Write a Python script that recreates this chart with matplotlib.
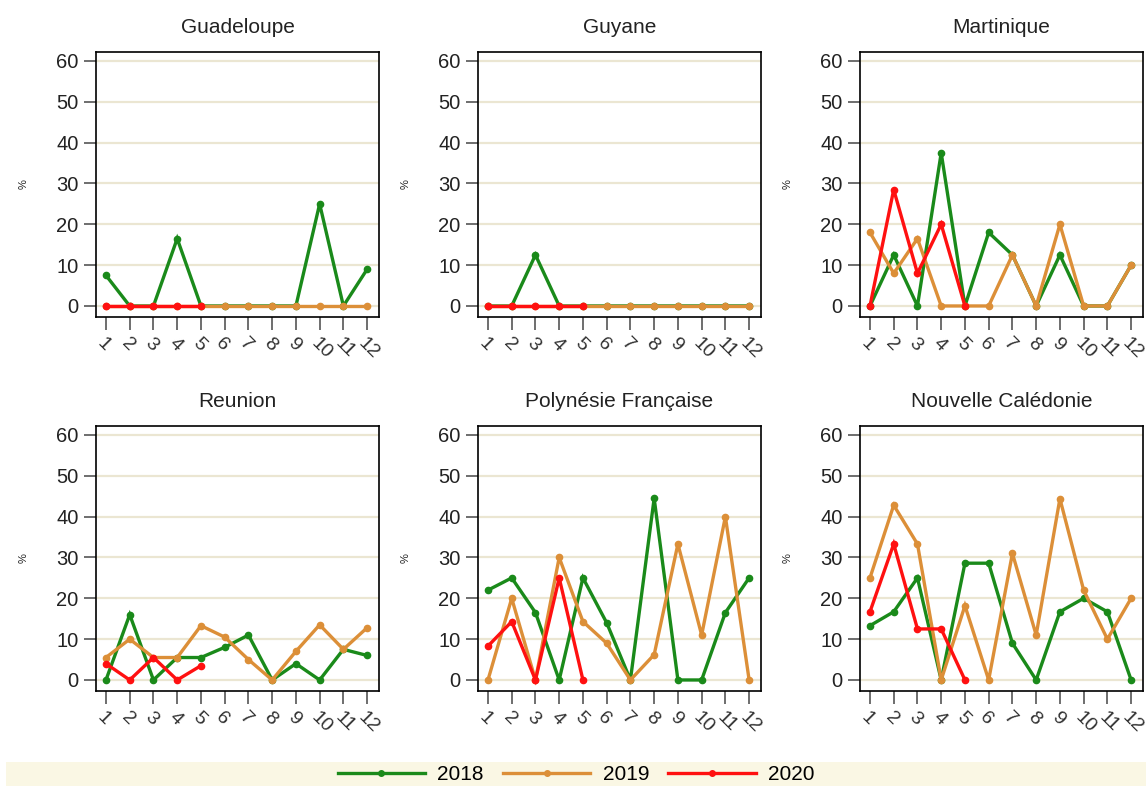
import matplotlib
matplotlib.use('Agg')
import matplotlib.pyplot as plt
from matplotlib.lines import Line2D
from matplotlib.patches import Rectangle
from matplotlib import font_manager

plt.rcParams['font.family'] = ['Liberation Sans', 'DejaVu Sans']

months = list(range(1, 13))
regions = ['Guadeloupe', 'Guyane', 'Martinique',
           'Reunion', 'Polynésie Française', 'Nouvelle Calédonie']
years = ['2018', '2019', '2020']

guadeloupe_2018 = [7.5, 0, 0, 16.5, 0, 0, 0, 0, 0, 25, 0, 9]
guadeloupe_2019 = [0, 0, 0, 0, 0, 0, 0, 0, 0, 0, 0, 0]
guadeloupe_2020 = [0, 0, 0, 0, 0]

guyane_2018 = [0, 0, 12.5, 0, 0, 0, 0, 0, 0, 0, 0, 0]
guyane_2019 = [0, 0, 0, 0, 0, 0, 0, 0, 0, 0, 0, 0]
guyane_2020 = [0, 0, 0, 0, 0]

martinique_2018 = [0, 12.5, 0, 37.5, 0, 18, 12.5, 0, 12.5, 0, 0, 10]
martinique_2019 = [18, 8, 16.5, 0, 0, 0, 12.5, 0, 20, 0, 0, 10]
martinique_2020 = [0, 28.5, 8, 20, 0]

reunion_2018 = [0, 16, 0, 5.5, 5.5, 8, 11, 0, 4, 0, 7.5, 6]
reunion_2019 = [5.5, 10, 5.5, 5.5, 13.3, 10.5, 5, 0, 7, 13.5, 7.5, 12.8]
reunion_2020 = [4, 0, 5.5, 0, 3.5]

polynesie_2018 = [22, 25, 16.5, 0, 25, 14, 0, 44.5, 0, 0, 16.5, 25]
polynesie_2019 = [0, 20, 0, 30, 14.3, 9, 0, 6.2, 33.3, 11, 40, 0]
polynesie_2020 = [8.3, 14.3, 0, 25, 0]

caledonie_2018 = [13.3, 16.7, 25, 0, 28.6, 28.6, 9, 0, 16.7, 20, 16.7, 0]
caledonie_2019 = [25, 42.8, 33.3, 0, 18.2, 0, 31, 11, 44.4, 22, 10, 20]
caledonie_2020 = [16.7, 33.3, 12.5, 12.5, 0]

series = [
    [guadeloupe_2018, guadeloupe_2019, guadeloupe_2020],
    [guyane_2018, guyane_2019, guyane_2020],
    [martinique_2018, martinique_2019, martinique_2020],
    [reunion_2018, reunion_2019, reunion_2020],
    [polynesie_2018, polynesie_2019, polynesie_2020],
    [caledonie_2018, caledonie_2019, caledonie_2020],
]
colors = ['#1a8a1a', '#dc8f38', '#ff1010']

# condensed font for the legend if available
names = {f.name for f in font_manager.fontManager.ttflist}
legend_family = 'Liberation Sans Narrow' if 'Liberation Sans Narrow' in names else 'Liberation Sans'

fig = plt.figure(figsize=(11.46, 7.86), dpi=100)
W, H = 1146, 786
lefts = [96, 478, 860]
tops = [52, 426]
aw, ah = 283, 265

for i, region in enumerate(regions):
    r, c = divmod(i, 3)
    ax = fig.add_axes([lefts[c] / W, 1 - (tops[r] + ah) / H, aw / W, ah / H])
    for y in range(0, 61, 10):
        ax.axhline(y, color='#ebe6d2', lw=1.6, zorder=0)
    for vals, col in zip(series[i], colors):
        ax.plot(months[:len(vals)], vals, '-o', color=col, lw=2.4, ms=4.5,
                solid_joinstyle='miter', zorder=3)
    ax.set_xlim(0.58, 12.5)
    ax.set_ylim(-2.7, 62.2)
    ax.set_yticks(range(0, 61, 10))
    ax.set_xticks(months)
    ax.set_xticklabels([str(m) for m in months], rotation=-45,
                       ha='left', va='top', rotation_mode='anchor',
                       fontsize=14, color='#333333')
    ax.tick_params(axis='y', labelsize=14.5, length=9, width=1.2,
                   color='#555555', labelcolor='#222222')
    ax.tick_params(axis='x', length=9, width=1.2, color='#555555', pad=4)
    for s in ax.spines.values():
        s.set_color('black')
        s.set_linewidth(1.2)
    ax.set_title(region, fontsize=15, pad=14, color='#222222')
    ax.set_ylabel('%', fontsize=8, labelpad=20, color='#222222')

fig.patches.append(Rectangle((6 / W, 0), 1 - 6 / W, 24 / H,
                             transform=fig.transFigure,
                             facecolor='#faf7e4', edgecolor='none', zorder=0))
handles = [Line2D([], [], color=c, lw=2.4, marker='o', ms=4) for c in colors]
fig.legend(handles, years, loc='center', bbox_to_anchor=(576 / W, 11 / H),
           ncol=3, frameon=False, handlelength=4.2,
           columnspacing=0.9, handletextpad=0.6,
           prop={'family': legend_family, 'size': 15})

fig.savefig('out.png', dpi=100)
